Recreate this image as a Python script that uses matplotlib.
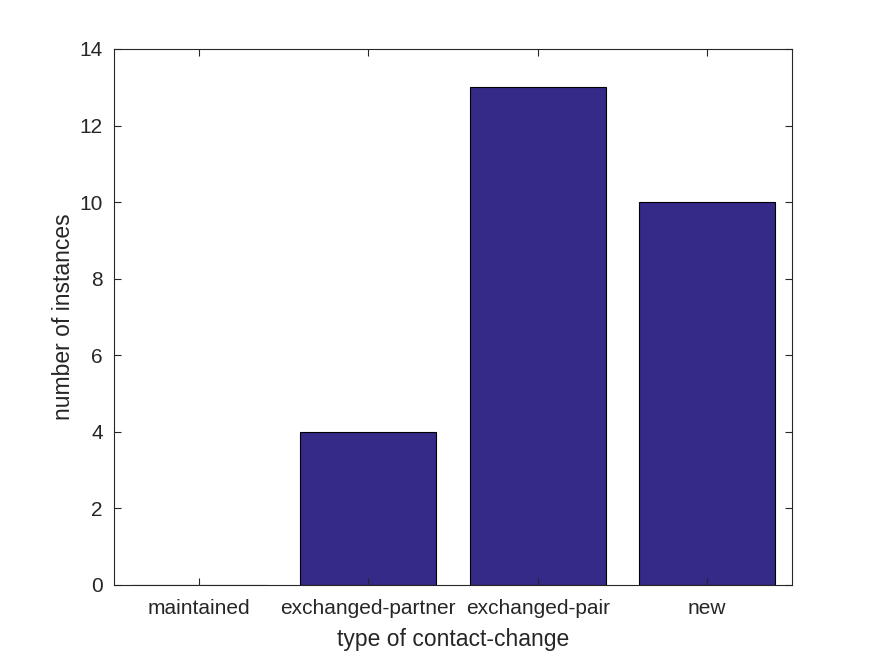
import matplotlib
matplotlib.use("Agg")
import matplotlib.pyplot as plt

categories = ["maintained", "exchanged-partner", "exchanged-pair", "new"]
counts = [0, 4, 13, 10]
yticks = [0, 2, 4, 6, 8, 10, 12, 14]

plt.rcParams['font.family'] = ['Liberation Sans', 'DejaVu Sans']

fig = plt.figure(figsize=(8.75, 6.56), dpi=100)
ax = fig.add_axes([114/875, 1-585/656, (792-114)/875, (585-49)/656])

x = list(range(1, len(categories)+1))
ax.bar(x, counts, width=0.8, color='#352A87', edgecolor='black', linewidth=0.8)
ax.set_xlim(0.5, 4.5)
ax.set_ylim(0, 14)
ax.set_xticks(x)
ax.set_xticklabels(categories)
ax.set_yticks(yticks)
ax.tick_params(direction='in', top=True, right=True, labelsize=15, colors='#262626',
               length=5, width=0.8)
ax.tick_params(axis='x', pad=10)
ax.tick_params(axis='y', pad=8)
for s in ax.spines.values():
    s.set_color('#262626')
    s.set_linewidth(0.8)
ax.set_xlabel("type of contact-change", fontsize=16.5, color='#262626', labelpad=7)
ax.set_ylabel("number of instances", fontsize=16.5, color='#262626', labelpad=3)

fig.savefig("out.png", dpi=100)
